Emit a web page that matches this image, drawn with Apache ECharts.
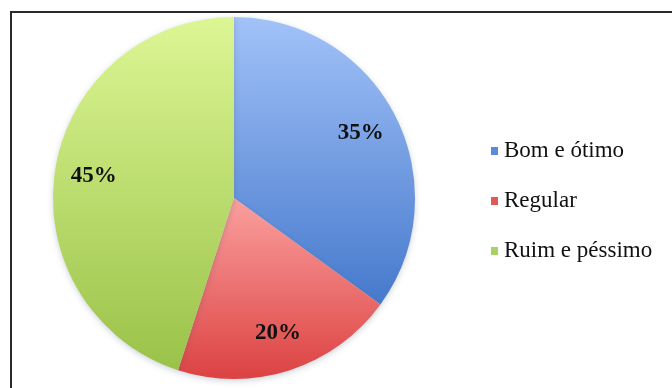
<!DOCTYPE html>
<html>
<head>
<meta charset="utf-8">
<script src="https://cdn.jsdelivr.net/npm/echarts@6/dist/echarts.min.js"></script>
<style>
  html, body { margin: 0; padding: 0; background: #fff; }
  #chart { width: 672px; height: 388px; }
</style>
</head>
<body>
<div id="chart"></div>
<script>
// Avaliação: share of answers per category (percent)
const categories = ['Bom e ótimo', 'Regular', 'Ruim e péssimo'];
const values = [35, 20, 45];

// Slice fills: light top to darker bottom
const topColors = ['#a2c2f8', '#faa09e', '#dcf694'];
const bottomColors = ['#4679cc', '#dc4242', '#9ac249'];
const legendColors = ['#5b8bd8', '#e05858', '#a9d062'];

const center = [234, 198];
const radius = 181;
// Labels sit further out than the default inside position
const labelPush = 1.52;

const chart = echarts.init(document.getElementById('chart'), null, { renderer: 'canvas' });

const data = categories.map((name, i) => ({
  name: name,
  value: values[i],
  itemStyle: {
    color: new echarts.graphic.LinearGradient(0, 0, 0, 1, [
      { offset: 0, color: topColors[i] },
      { offset: 1, color: bottomColors[i] }
    ])
  }
}));

chart.setOption({
  backgroundColor: '#ffffff',
  animation: false,
  color: legendColors,
  graphic: [{
    type: 'rect',
    shape: { x: 11, y: 12, width: 700, height: 420 },
    style: { fill: 'none', stroke: '#2a2a2a', lineWidth: 2 },
    silent: true,
    z: -1
  }],
  legend: {
    orient: 'vertical',
    left: 486,
    top: 134,
    itemWidth: 7,
    itemHeight: 8,
    itemGap: 26,
    icon: 'rect',
    data: categories.map((name, i) => ({ name: name, itemStyle: { color: legendColors[i] } })),
    textStyle: {
      fontFamily: 'Liberation Serif',
      fontSize: 23,
      lineHeight: 24,
      color: '#111',
      padding: [0, 0, 0, 1]
    }
  },
  series: [{
    type: 'pie',
    center: center,
    radius: [0, radius],
    startAngle: 90,
    clockwise: true,
    silent: true,
    data: data,
    itemStyle: {
      borderWidth: 0,
      shadowBlur: 6,
      shadowColor: 'rgba(60, 80, 110, 0.25)',
      shadowOffsetY: 2
    },
    label: {
      show: true,
      position: 'inside',
      formatter: p => p.value + '%',
      fontFamily: 'Liberation Serif',
      fontWeight: 'bold',
      fontSize: 23,
      color: '#111'
    },
    labelLine: { show: false },
    labelLayout: function (params) {
      const r = params.labelRect;
      const lx = r.x + r.width / 2;
      const ly = r.y + r.height / 2;
      return {
        x: center[0] + (lx - center[0]) * labelPush,
        y: center[1] + (ly - center[1]) * labelPush,
        align: 'center',
        verticalAlign: 'middle'
      };
    }
  }]
});
</script>
</body>
</html>
